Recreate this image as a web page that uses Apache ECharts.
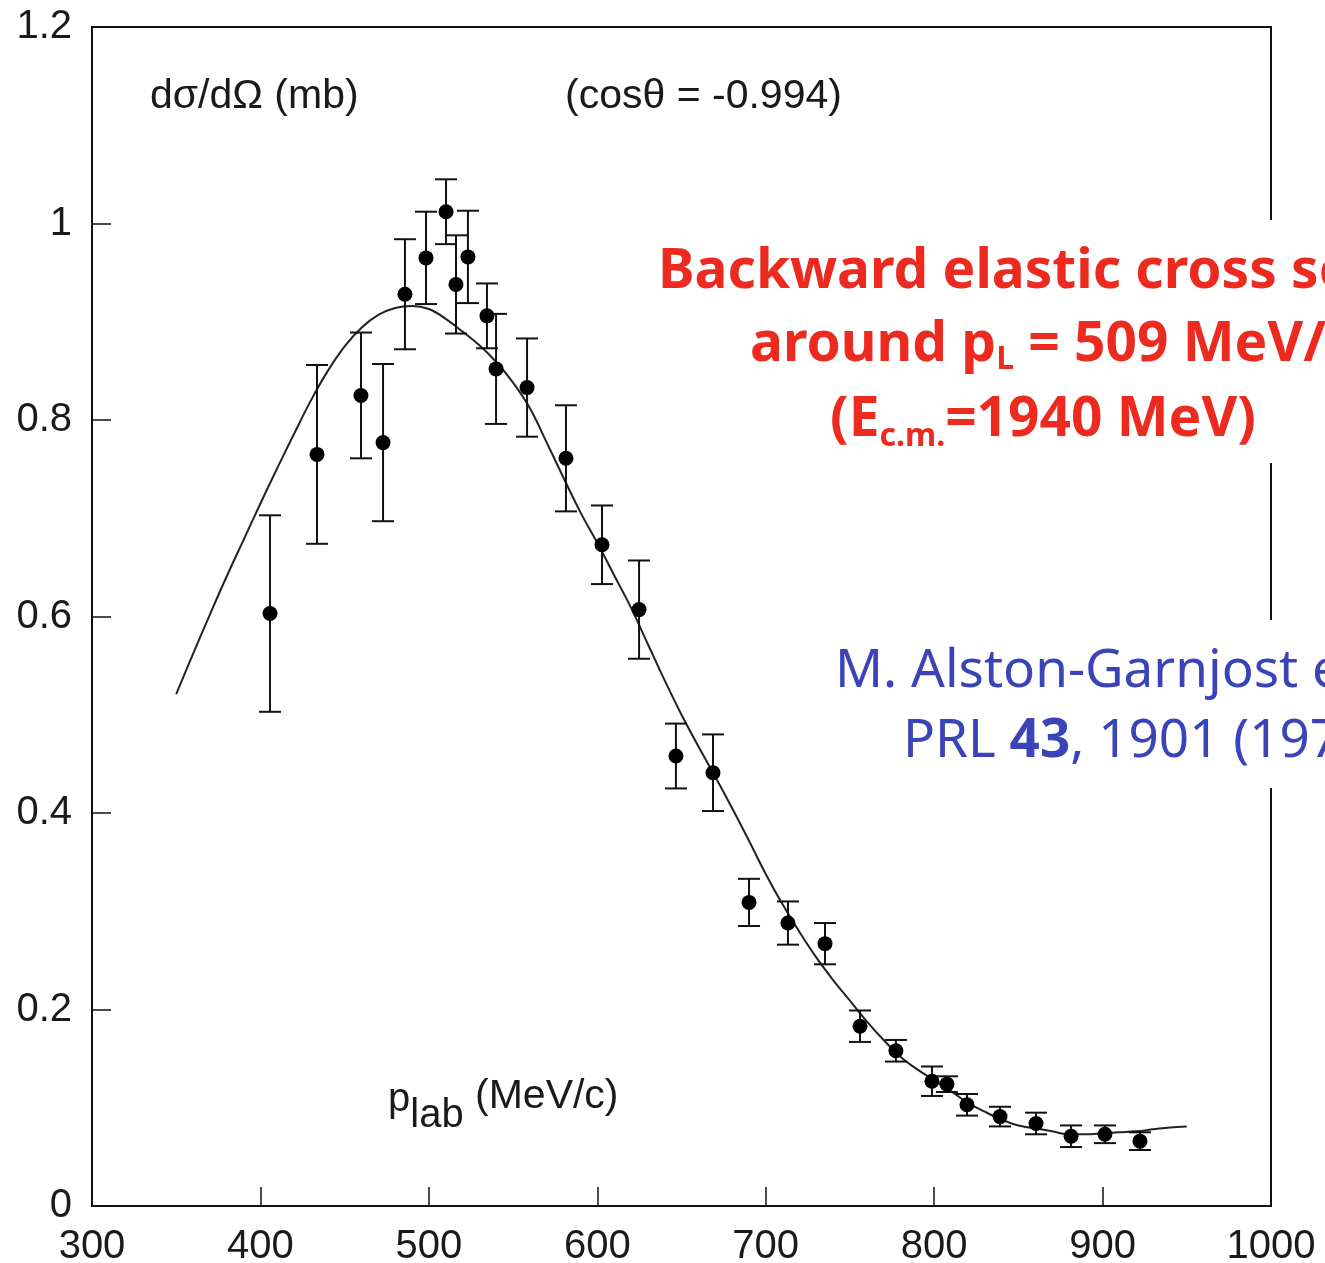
<!DOCTYPE html>
<html>
<head>
<meta charset="utf-8">
<script src="https://cdn.jsdelivr.net/npm/echarts@6/dist/echarts.min.js"></script>
<style>
html,body{margin:0;padding:0;background:#fff;}
#chart{width:1325px;height:1263px;}
</style>
</head>
<body>
<div id="chart"></div>
<script>
// ---- data ----
const pLab = [405.7, 433.6, 459.7, 472.8, 485.8, 498.3, 510.2, 516.1, 523.2, 534.5, 539.9, 558.3, 581.4, 602.8, 624.8, 646.7, 668.7, 690.1, 713.2, 735.2, 756.0, 777.3, 798.7, 807.6, 819.5, 839.1, 860.5, 881.3, 901.4, 922.2];
const dSigma = [0.603, 0.765, 0.825, 0.777, 0.928, 0.965, 1.012, 0.938, 0.966, 0.906, 0.852, 0.833, 0.761, 0.673, 0.607, 0.458, 0.441, 0.309, 0.288, 0.267, 0.183, 0.158, 0.127, 0.124, 0.103, 0.091, 0.084, 0.071, 0.073, 0.066];
const dSigmaErr = [0.100, 0.091, 0.064, 0.080, 0.056, 0.047, 0.033, 0.050, 0.047, 0.033, 0.056, 0.050, 0.054, 0.040, 0.050, 0.033, 0.039, 0.024, 0.022, 0.021, 0.016, 0.011, 0.015, 0.008, 0.011, 0.010, 0.011, 0.011, 0.009, 0.009];

const fitX = [350, 360, 370, 380, 390, 400, 410, 420, 430, 440, 450, 460, 470, 480, 490, 500, 510, 520, 530, 540, 550, 560, 570, 580, 590, 600, 610, 620, 630, 640, 650, 660, 670, 680, 690, 700, 710, 720, 730, 740, 750, 760, 770, 780, 790, 800, 810, 820, 830, 840, 850, 860, 870, 880, 890, 900, 910, 920, 930, 940, 950];
const fitY = [0.521, 0.562, 0.602, 0.641, 0.678, 0.715, 0.751, 0.786, 0.820, 0.850, 0.875, 0.894, 0.907, 0.914, 0.916, 0.913, 0.903, 0.890, 0.876, 0.859, 0.838, 0.812, 0.777, 0.741, 0.706, 0.675, 0.642, 0.609, 0.572, 0.535, 0.500, 0.468, 0.437, 0.405, 0.372, 0.338, 0.307, 0.279, 0.253, 0.230, 0.209, 0.188, 0.169, 0.152, 0.139, 0.128, 0.117, 0.105, 0.096, 0.088, 0.082, 0.079, 0.076, 0.073, 0.073, 0.074, 0.075, 0.076, 0.078, 0.080, 0.081];

const xTicks = [300, 1000, 100];
const yTicks = [0, 1.2, 0.2];

// ---- helpers ----
const measureCtx = document.createElement('canvas').getContext('2d');
function textWidth(font, t) { measureCtx.font = font; return measureCtx.measureText(t).width; }
function runs(x, yMid, parts, z) {
  const out = [];
  for (const p of parts) {
    const font = (p.weight || 'normal') + ' ' + p.size + 'px ' + p.family;
    out.push({
      type: 'text', x: x, y: yMid + (p.dy || 0), z: z || 101,
      style: { text: p.t, font: font, fill: p.color, align: 'left', verticalAlign: 'middle' }
    });
    x += textWidth(font, p.t);
  }
  return out;
}

const SANS = '"Liberation Sans", Arial, sans-serif';
const FUN = '"Comic Sans MS", "Noto Sans", sans-serif';
const RED = '#ec2a1f';
const BLUE = '#3a44b8';
const INK = '#1a1a1a';

const chart = echarts.init(document.getElementById('chart'), null, { renderer: 'canvas' });

const points = pLab.map((x, i) => [x, dSigma[i]]);
const bars = pLab.map((x, i) => [x, dSigma[i] - dSigmaErr[i], dSigma[i] + dSigmaErr[i]]);
const fit = fitX.map((x, i) => [x, fitY[i]]);

let graphics = [];
// white boxes behind the annotations (they hide part of the frame)
graphics.push({ type: 'rect', z: 100, shape: { x: 650, y: 220, width: 700, height: 243 }, style: { fill: '#fff' } });
graphics.push({ type: 'rect', z: 100, shape: { x: 822, y: 620, width: 520, height: 168 }, style: { fill: '#fff' } });

// plot annotations (black)
graphics = graphics.concat(runs(150, 97, [{ t: 'dσ/dΩ (mb)', size: 41, family: SANS, color: INK }]));
graphics = graphics.concat(runs(565, 97, [{ t: '(cosθ = -0.994)', size: 41, family: SANS, color: INK }]));
graphics = graphics.concat(runs(388, 1100, [
  { t: 'p', size: 40, family: SANS, color: INK },
  { t: 'lab', size: 40, family: SANS, color: INK, dy: 16 },
  { t: ' (MeV/c)', size: 41, family: SANS, color: INK, dy: -3 }
]));

// red annotation
graphics = graphics.concat(runs(658, 272, [{ t: 'Backward elastic cross section', size: 55, weight: 'bold', family: FUN, color: RED }]));
graphics = graphics.concat(runs(750, 345, [
  { t: 'around p', size: 55, weight: 'bold', family: FUN, color: RED },
  { t: 'L', size: 32, weight: 'bold', family: FUN, color: RED, dy: 15 },
  { t: ' = 509 MeV/c', size: 55, weight: 'bold', family: FUN, color: RED }
]));
graphics = graphics.concat(runs(830, 420, [
  { t: '(E', size: 55, weight: 'bold', family: FUN, color: RED },
  { t: 'c.m.', size: 32, weight: 'bold', family: FUN, color: RED, dy: 17 },
  { t: '=1940 MeV)', size: 55, weight: 'bold', family: FUN, color: RED }
]));

// blue annotation
graphics = graphics.concat(runs(835, 672, [{ t: 'M. Alston-Garnjost et al.', size: 53, family: FUN, color: BLUE }]));
graphics = graphics.concat(runs(903, 742, [
  { t: 'PRL ', size: 53, family: FUN, color: BLUE },
  { t: '43', size: 53, weight: 'bold', family: FUN, color: BLUE },
  { t: ', 1901 (1979)', size: 53, family: FUN, color: BLUE }
]));

const option = {
  animation: false,
  backgroundColor: '#fff',
  grid: {
    left: 92, top: 27, right: 54, bottom: 57,
    containLabel: false, outerBoundsMode: 'none',
    show: true, borderColor: '#111', borderWidth: 2, backgroundColor: 'transparent'
  },
  xAxis: {
    type: 'value', min: xTicks[0], max: xTicks[1], interval: xTicks[2],
    axisLine: { show: true, lineStyle: { color: '#111', width: 2 } },
    axisTick: { show: true, inside: true, length: 19, lineStyle: { color: '#111', width: 1.5 } },
    axisLabel: { fontSize: 40, color: INK, margin: 21, fontFamily: SANS, formatter: function (v) { return String(v); } },
    splitLine: { show: false }
  },
  yAxis: {
    type: 'value', min: yTicks[0], max: yTicks[1], interval: yTicks[2],
    axisLine: { show: true, lineStyle: { color: '#111', width: 2 } },
    axisTick: { show: true, inside: true, length: 19, lineStyle: { color: '#111', width: 1.5 } },
    axisLabel: { fontSize: 40, color: INK, margin: 20, fontFamily: SANS, formatter: function (v) { return String(Math.round(v * 10) / 10); } },
    splitLine: { show: false }
  },
  series: [
    {
      type: 'line', data: fit, smooth: 0.4, showSymbol: false, symbol: 'none',
      lineStyle: { color: '#222', width: 2 }, z: 2
    },
    {
      type: 'custom', data: bars, z: 3,
      renderItem: function (params, api) {
        const x = api.value(0);
        const lo = api.coord([x, api.value(1)]);
        const hi = api.coord([x, api.value(2)]);
        const w = 11;
        const style = { stroke: '#111', lineWidth: 2, fill: null };
        return {
          type: 'group',
          children: [
            { type: 'line', shape: { x1: lo[0], y1: lo[1], x2: hi[0], y2: hi[1] }, style: style },
            { type: 'line', shape: { x1: lo[0] - w, y1: lo[1], x2: lo[0] + w, y2: lo[1] }, style: style },
            { type: 'line', shape: { x1: hi[0] - w, y1: hi[1], x2: hi[0] + w, y2: hi[1] }, style: style }
          ]
        };
      }
    },
    {
      type: 'scatter', data: points, symbol: 'circle', symbolSize: 15,
      itemStyle: { color: '#000', opacity: 1 }, z: 4
    }
  ],
  graphic: { elements: graphics }
};
chart.setOption(option);
</script>
</body>
</html>
